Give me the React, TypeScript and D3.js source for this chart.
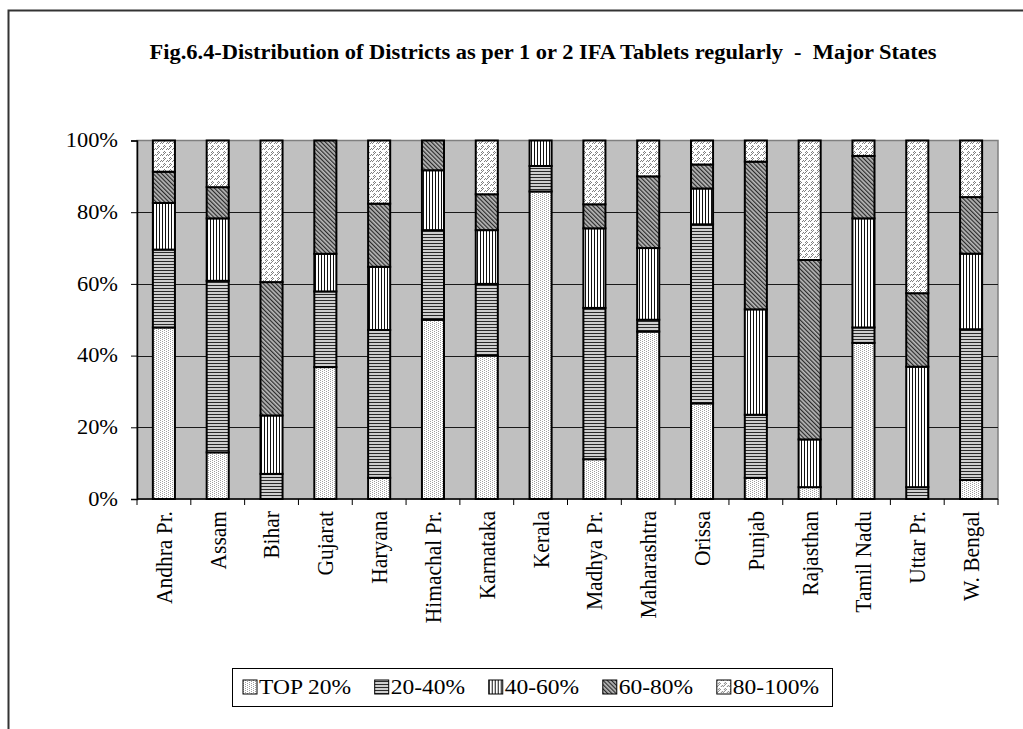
import React, { useEffect, useRef } from 'react';
import * as d3 from 'd3';

const states = [
  'Andhra Pr.', 'Assam', 'Bihar', 'Gujarat', 'Haryana', 'Himachal Pr.', 'Karnataka', 'Kerala',
  'Madhya Pr.', 'Maharashtra', 'Orissa', 'Punjab', 'Rajasthan', 'Tamil Nadu', 'Uttar Pr.', 'W. Bengal'
];
const seriesNames = ['TOP 20%', '20-40%', '40-60%', '60-80%', '80-100%'];
const top20 = [47.8, 13.0, 0, 36.8, 5.9, 50.0, 40.0, 85.7, 11.1, 46.7, 26.7, 5.9, 3.3, 43.5, 0, 5.3];
const p20to40 = [21.7, 47.8, 7.0, 21.1, 41.2, 25.0, 20.0, 7.1, 42.2, 3.3, 50.0, 17.6, 0, 4.3, 3.3, 42.1];
const p40to60 = [13.0, 17.4, 16.3, 10.5, 17.6, 16.7, 15.0, 7.1, 22.2, 20.0, 10.0, 29.4, 13.3, 30.4, 33.6, 21.1];
const p60to80 = [8.7, 8.7, 37.2, 31.6, 17.6, 8.3, 10.0, 0, 6.7, 20.0, 6.7, 41.2, 50.0, 17.4, 20.5, 15.8];
const p80to100 = [8.7, 13.0, 39.5, 0, 17.6, 0, 15.0, 0, 17.8, 10.0, 6.7, 5.9, 33.3, 4.3, 42.6, 15.8];
const yTicks = [0, 0.2, 0.4, 0.6, 0.8, 1];

const title = 'Fig.6.4-Distribution of Districts as per 1 or 2 IFA Tablets regularly  -  Major States';
const FONT = '"Liberation Serif", "Times New Roman", serif';
// the source picture is a little wider than tall, so horizontal text is stretched
const STRETCH = 1.12;

const App: React.FC = () => {
  const svgRef = useRef<SVGSVGElement>(null);

  useEffect(() => {
    if (!svgRef.current) return;
    const svg = d3.select(svgRef.current);
    svg.selectAll('*').remove();

    const width = 1023;
    const height = 729;
    const plot = { left: 137, right: 998, top: 140.5, bottom: 499 };

    // fill patterns, one per series
    const defs = svg.append('defs');
    const dots = defs.append('pattern').attr('id', 'pat0').attr('patternUnits', 'userSpaceOnUse')
      .attr('width', 4).attr('height', 2);
    dots.append('rect').attr('width', 4).attr('height', 2).attr('fill', '#fff');
    dots.append('rect').attr('x', 0).attr('y', 0).attr('width', 1).attr('height', 1).attr('fill', '#a0a0a0');
    dots.append('rect').attr('x', 2).attr('y', 1).attr('width', 1).attr('height', 1).attr('fill', '#a0a0a0');

    const hor = defs.append('pattern').attr('id', 'pat1').attr('patternUnits', 'userSpaceOnUse')
      .attr('width', 4).attr('height', 3);
    hor.append('rect').attr('width', 4).attr('height', 3).attr('fill', '#cfcfcf');
    hor.append('rect').attr('width', 4).attr('height', 1).attr('fill', '#2a2a2a');

    const ver = defs.append('pattern').attr('id', 'pat2').attr('patternUnits', 'userSpaceOnUse')
      .attr('width', 3).attr('height', 4);
    ver.append('rect').attr('width', 3).attr('height', 4).attr('fill', '#fff');
    ver.append('rect').attr('width', 1).attr('height', 4).attr('fill', '#111');

    const diag = defs.append('pattern').attr('id', 'pat3').attr('patternUnits', 'userSpaceOnUse')
      .attr('width', 3).attr('height', 3).attr('patternTransform', 'rotate(-45)');
    diag.append('rect').attr('width', 3).attr('height', 3).attr('fill', '#b8b8b8');
    diag.append('rect').attr('width', 1.2).attr('height', 3).attr('fill', '#2a2a2a');

    const zig = defs.append('pattern').attr('id', 'pat4').attr('patternUnits', 'userSpaceOnUse')
      .attr('width', 6).attr('height', 6);
    zig.append('rect').attr('width', 6).attr('height', 6).attr('fill', '#fff');
    zig.append('path').attr('d', 'M0,6 L4,2 M4,6 L6,4 M1,3 L3,1').attr('stroke', '#808080').attr('stroke-width', 1);

    // outer chart frame
    svg.append('rect')
      .attr('x', 8.5).attr('y', 10.5).attr('width', width + 20).attr('height', height + 20)
      .attr('fill', '#fff').attr('stroke', '#333').attr('stroke-width', 2);

    svg.append('text')
      .attr('x', 543).attr('y', 59)
      .attr('text-anchor', 'middle')
      .attr('textLength', 787).attr('lengthAdjust', 'spacingAndGlyphs')
      .style('font-family', FONT).style('font-size', '20px').style('font-weight', 'bold')
      .style('white-space', 'pre')
      .text(title);

    const rows = states.map((s, i) => ({
      state: s,
      'TOP 20%': top20[i],
      '20-40%': p20to40[i],
      '40-60%': p40to60[i],
      '60-80%': p60to80[i],
      '80-100%': p80to100[i]
    }));
    const stacked = d3.stack<any>().keys(seriesNames).offset(d3.stackOffsetExpand)(rows);

    const x = d3.scaleBand().domain(states).range([plot.left, plot.right])
      .paddingInner(0.59).paddingOuter(0.295);
    const y = d3.scaleLinear().domain([0, 1]).range([plot.bottom, plot.top]);

    // plot area
    svg.append('rect')
      .attr('x', plot.left).attr('y', plot.top)
      .attr('width', plot.right - plot.left).attr('height', plot.bottom - plot.top)
      .attr('fill', '#c0c0c0').attr('stroke', '#808080').attr('stroke-width', 1.5);

    svg.append('g').selectAll('line')
      .data(yTicks.slice(1, -1))
      .enter().append('line')
      .attr('x1', plot.left).attr('x2', plot.right)
      .attr('y1', d => Math.round(y(d)) + 0.5).attr('y2', d => Math.round(y(d)) + 0.5)
      .attr('stroke', '#1a1a1a').attr('stroke-width', 1);

    // bars
    stacked.forEach((layer, si) => {
      svg.append('g').selectAll('rect')
        .data(layer.filter(d => d[1] - d[0] > 0.0001))
        .enter().append('rect')
        .attr('x', d => x(d.data.state)!)
        .attr('width', x.bandwidth())
        .attr('y', d => y(d[1]))
        .attr('height', d => y(d[0]) - y(d[1]))
        .attr('fill', `url(#pat${si})`)
        .attr('stroke', '#000')
        .attr('stroke-width', 2);
    });

    // y axis
    const yAxis = svg.append('g')
      .attr('transform', `translate(${plot.left},0)`)
      .call(d3.axisLeft(y).tickValues(yTicks).tickSize(6).tickFormat(() => ''));
    yAxis.select('.domain').attr('stroke', '#000').attr('stroke-width', 1.5);
    yAxis.selectAll('.tick line').attr('stroke', '#000');
    svg.append('g').selectAll('text')
      .data(yTicks)
      .enter().append('text')
      .attr('transform', d => `translate(${plot.left - 19},${y(d)}) scale(${STRETCH},1)`)
      .attr('dy', '0.34em')
      .attr('text-anchor', 'end')
      .style('font-family', FONT).style('font-size', '20px')
      .text(d => d3.format('.0%')(d));

    // x axis with ticks on category boundaries
    svg.append('line')
      .attr('x1', plot.left).attr('x2', plot.right)
      .attr('y1', plot.bottom).attr('y2', plot.bottom)
      .attr('stroke', '#000').attr('stroke-width', 1.5);
    const step = x.step();
    svg.append('g').selectAll('line')
      .data(d3.range(states.length + 1))
      .enter().append('line')
      .attr('x1', i => plot.left + i * step).attr('x2', i => plot.left + i * step)
      .attr('y1', plot.bottom).attr('y2', plot.bottom + 6)
      .attr('stroke', '#000');

    svg.append('g').selectAll('text')
      .data(states)
      .enter().append('text')
      .attr('transform', d => `translate(${x(d)! + x.bandwidth() / 2},${plot.bottom + 12}) scale(${STRETCH},1) rotate(-90)`)
      .attr('dy', '0.33em')
      .attr('text-anchor', 'end')
      .style('font-family', FONT).style('font-size', '21.5px')
      .text(d => d);

    // legend
    const legend = svg.append('g');
    const box = { x: 232, y: 668, w: 600, h: 38 };
    legend.append('rect')
      .attr('x', box.x + 0.5).attr('y', box.y + 0.5).attr('width', box.w).attr('height', box.h)
      .attr('fill', '#fff').attr('stroke', '#000').attr('stroke-width', 1);
    const items = legend.selectAll('g.item')
      .data(seriesNames)
      .enter().append('g').attr('class', 'item');
    items.append('rect')
      .attr('y', -1)
      .attr('width', 14).attr('height', 14)
      .attr('fill', (_d, i) => `url(#pat${i})`)
      .attr('stroke', '#000').attr('stroke-width', 1);
    items.append('text')
      .attr('transform', `translate(16,13) scale(${STRETCH},1)`)
      .style('font-family', FONT).style('font-size', '21px')
      .text(d => d);
    const widths: number[] = [];
    items.select('text').each(function () {
      widths.push(16 + (this as SVGTextElement).getComputedTextLength() * STRETCH);
    });
    const start = box.x + 11;
    const end = box.x + box.w - 13;
    const gap = (end - start - d3.sum(widths)) / (widths.length - 1);
    let cx = start;
    items.attr('transform', (_d, i) => {
      const t = `translate(${cx},${box.y + 13})`;
      cx += widths[i] + gap;
      return t;
    });
  }, []);

  return (
    <svg
      ref={svgRef}
      width={1023}
      height={729}
      style={{ position: 'absolute', left: 0, top: 0, background: '#fff' }}
    />
  );
};

export default App;
